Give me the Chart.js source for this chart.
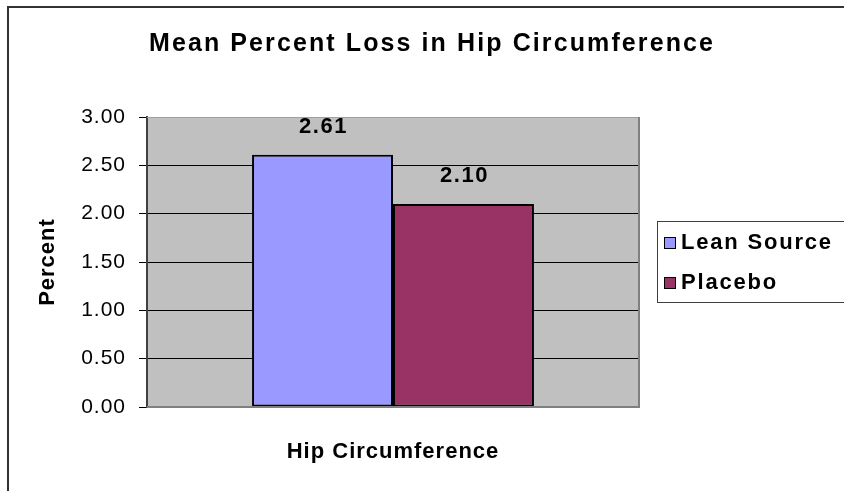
<!DOCTYPE html>
<html>
<head>
<meta charset="utf-8">
<script src="https://cdn.jsdelivr.net/npm/chart.js@4/dist/chart.umd.min.js"></script>
<style>
  html, body { margin: 0; padding: 0; background: #ffffff; }
  #wrap { width: 844px; height: 491px; position: relative; }
</style>
</head>
<body>
<div id="wrap"><canvas id="c" width="844" height="491"></canvas></div>
<script>
// Chart data
const chartTitle = 'Mean Percent Loss in Hip Circumference';
const categories = ['Hip Circumference'];
const seriesNames = ['Lean Source', 'Placebo'];
const leanSource = [2.61];
const placebo = [2.10];
const yTickLabels = ['0.00', '0.50', '1.00', '1.50', '2.00', '2.50', '3.00'];
const yAxisTitle = 'Percent';

const FONT = "'Liberation Sans', Arial, sans-serif";
const SPACING = '1px';

// Letter spacing used for all axis text
const spacingPlugin = {
  id: 'spacing',
  beforeUpdate(chart) { chart.ctx.letterSpacing = SPACING; },
  beforeLayout(chart) { chart.ctx.letterSpacing = SPACING; },
  beforeDraw(chart) { chart.ctx.letterSpacing = SPACING; }
};

// Gray plot background, outer frame and plot border
const framePlugin = {
  id: 'frame',
  beforeDraw(chart) {
    const { ctx, chartArea: a } = chart;
    ctx.save();
    ctx.fillStyle = '#C0C0C0';
    ctx.fillRect(a.left, a.top, a.right - a.left, a.bottom - a.top);
    // outer chart frame
    ctx.strokeStyle = '#333333';
    ctx.lineWidth = 2;
    ctx.beginPath();
    ctx.moveTo(8, 500);
    ctx.lineTo(8, 7);
    ctx.lineTo(850, 7);
    ctx.stroke();
    ctx.restore();
  },
  afterDraw(chart) {
    const { ctx, chartArea: a } = chart;
    ctx.save();
    ctx.strokeStyle = '#A0A0A0';
    ctx.lineWidth = 1;
    ctx.beginPath();
    ctx.moveTo(a.left, a.top + 0.5);
    ctx.lineTo(a.right, a.top + 0.5);
    ctx.stroke();
    ctx.strokeStyle = '#808080';
    ctx.lineWidth = 2;
    ctx.beginPath();
    ctx.moveTo(a.left, a.bottom);
    ctx.lineTo(a.right, a.bottom);
    ctx.lineTo(a.right, a.top);
    ctx.stroke();
    ctx.restore();
  }
};

// Title, value labels and legend
const annotatePlugin = {
  id: 'annotate',
  afterDatasetsDraw(chart) {
    const { ctx } = chart;
    ctx.save();
    ctx.fillStyle = '#000';
    ctx.font = 'bold 22px ' + FONT;
    ctx.letterSpacing = '1.5px';
    ctx.textAlign = 'center';
    ctx.textBaseline = 'middle';
    chart.data.datasets.forEach((ds, i) => {
      const meta = chart.getDatasetMeta(i);
      meta.data.forEach((bar, j) => {
        ctx.fillText(ds.data[j].toFixed(2), bar.x + 1, bar.y - 28);
      });
    });
    ctx.restore();
  },
  afterDraw(chart) {
    const { ctx } = chart;
    ctx.save();
    // title
    ctx.fillStyle = '#000';
    ctx.font = 'bold 25px ' + FONT;
    ctx.letterSpacing = '2.1px';
    ctx.textAlign = 'center';
    ctx.textBaseline = 'alphabetic';
    ctx.fillText(chartTitle, 432, 51);

    // legend
    ctx.letterSpacing = '1.8px';
    ctx.strokeStyle = '#404040';
    ctx.lineWidth = 1;
    ctx.strokeRect(657.5, 221.5, 200, 81);
    ctx.font = 'bold 22px ' + FONT;
    ctx.textAlign = 'left';
    ctx.textBaseline = 'middle';
    chart.data.datasets.forEach((ds, i) => {
      const cy = 242 + i * 40;
      ctx.fillStyle = ds.backgroundColor;
      ctx.fillRect(664, cy - 5, 11, 11);
      ctx.strokeStyle = '#000';
      ctx.strokeRect(664.5, cy - 4.5, 11, 11);
      ctx.fillStyle = '#000';
      ctx.fillText(ds.label, 681, cy + 1);
    });
    ctx.restore();
  }
};

new Chart(document.getElementById('c'), {
  type: 'bar',
  data: {
    labels: categories,
    datasets: [
      { label: seriesNames[0], data: leanSource, backgroundColor: '#9999FF',
        borderColor: '#000', borderWidth: 2, borderSkipped: false },
      { label: seriesNames[1], data: placebo, backgroundColor: '#993366',
        borderColor: '#000', borderWidth: 2, borderSkipped: false }
    ]
  },
  options: {
    responsive: false,
    animation: false,
    devicePixelRatio: 1,
    layout: { padding: { top: 117, right: 205, bottom: 0, left: 0 } },
    datasets: { bar: { categoryPercentage: 0.573, barPercentage: 1 } },
    plugins: {
      legend: { display: false },
      title: { display: false },
      tooltip: { enabled: false }
    },
    scales: {
      x: {
        grid: { display: false, drawTicks: false },
        border: { display: false },
        ticks: { color: '#000', font: { family: FONT, size: 22, weight: 'bold' }, padding: 32 },
        afterFit(scale) { scale.height = 84; }
      },
      y: {
        min: 0,
        max: 3,
        ticks: {
          stepSize: 0.5,
          color: '#000',
          font: { family: FONT, size: 21 },
          padding: 13,
          callback: (v, i) => yTickLabels[i]
        },
        grid: {
          color: c => (c.tick && (c.tick.value === 3 || c.tick.value === 0)) ? 'rgba(0,0,0,0)' : '#000',
          tickColor: '#000',
          lineWidth: 1,
          tickLength: 8,
          drawTicks: true
        },
        border: { display: true, color: '#404040', width: 2 },
        title: {
          display: true,
          text: yAxisTitle,
          color: '#000',
          font: { family: FONT, size: 22, weight: 'bold' },
          padding: { top: 35, bottom: 0 }
        },
        afterFit(scale) { scale.width = 147; }
      }
    }
  },
  plugins: [spacingPlugin, framePlugin, annotatePlugin]
});
</script>
</body>
</html>
